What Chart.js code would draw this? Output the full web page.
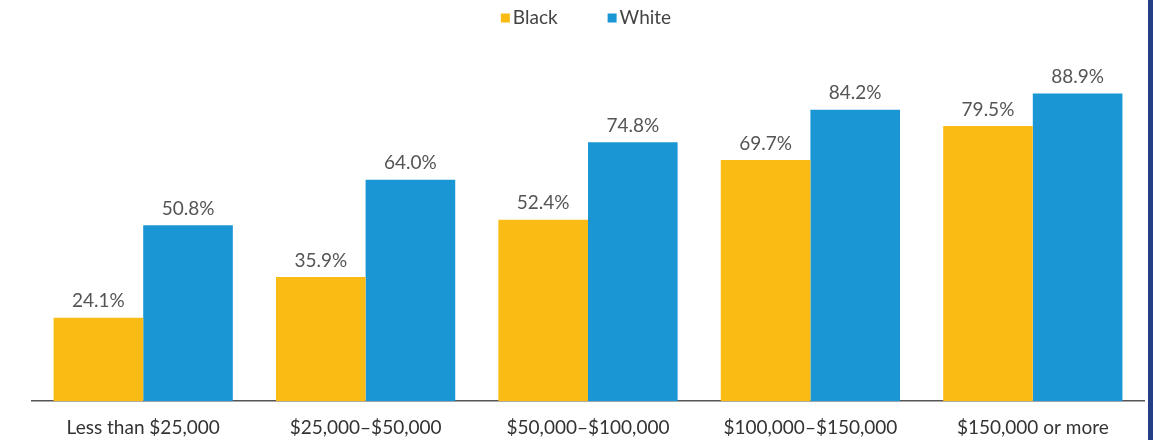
<!DOCTYPE html>
<html>
<head>
<meta charset="utf-8">
<script src="https://cdn.jsdelivr.net/npm/chart.js@4.4.0/dist/chart.umd.min.js"></script>
<style>
  body { margin: 0; background: #fff; }
  #caja { width: 1148px; height: 440px; border-right: 5px solid #243f86; position: relative; }
</style>
</head>
<body>
<div id="caja"><canvas id="grafico" width="1148" height="440"></canvas></div>
<script>
// datos del grafico
const categorias = ["Less than $25,000", "$25,000\u2013$50,000", "$50,000\u2013$100,000", "$100,000\u2013$150,000", "$150,000 or more"];
const valoresBlack = [24.1, 35.9, 52.4, 69.7, 79.5];
const valoresWhite = [50.8, 64.0, 74.8, 84.2, 88.9];
const nombresSeries = ["Black", "White"];

const colorBlack = "#fbbb15";
const colorWhite = "#1a96d5";
const coloresSeries = [colorBlack, colorWhite];

// etiquetas de valor encima de cada barra
const etiquetasBarras = {
  id: "etiquetasBarras",
  afterDatasetsDraw(chart) {
    const ctx = chart.ctx;
    ctx.save();
    ctx.font = "19px Lato";
    ctx.fillStyle = "#555";
    ctx.textAlign = "center";
    ctx.textBaseline = "bottom";
    chart.data.datasets.forEach((ds, i) => {
      chart.getDatasetMeta(i).data.forEach((barra, j) => {
        ctx.fillText(ds.data[j].toFixed(1) + "%", barra.x, barra.y - 7);
      });
    });
    ctx.restore();
  }
};

// leyenda arriba al centro (cuadrado pegado al texto)
const leyenda = {
  id: "leyenda",
  afterDraw(chart) {
    const ctx = chart.ctx;
    ctx.save();
    ctx.font = "19px Lato";
    ctx.textBaseline = "middle";
    const caja = 9, sep = 3, entre = 50;
    let total = 0;
    nombresSeries.forEach((n, i) => {
      total += caja + sep + ctx.measureText(n).width + (i > 0 ? entre : 0);
    });
    let x = 586 - total / 2;
    const y = 18;
    nombresSeries.forEach((n, i) => {
      ctx.fillStyle = coloresSeries[i];
      ctx.fillRect(x, y - caja / 2, caja, caja);
      x += caja + sep;
      ctx.fillStyle = "#444";
      ctx.fillText(n, x, y);
      x += ctx.measureText(n).width + entre;
    });
    ctx.restore();
  }
};

new Chart(document.getElementById("grafico"), {
  type: "bar",
  data: {
    labels: categorias,
    datasets: [
      { label: nombresSeries[0], data: valoresBlack, backgroundColor: colorBlack },
      { label: nombresSeries[1], data: valoresWhite, backgroundColor: colorWhite }
    ]
  },
  options: {
    responsive: false,
    animation: false,
    devicePixelRatio: 1,
    datasets: { bar: { categoryPercentage: 0.806, barPercentage: 1 } },
    layout: { padding: { left: 32, right: 4, top: 55, bottom: -14 } },
    plugins: {
      tooltip: { enabled: false },
      legend: { display: false }
    },
    scales: {
      x: {
        grid: { display: false, drawTicks: false },
        border: { color: "#555", width: 1.5 },
        ticks: { color: "#333", font: { family: "Lato", size: 19 }, padding: 15, maxRotation: 0 }
      },
      y: {
        display: false,
        min: 0,
        max: 100
      }
    }
  },
  plugins: [etiquetasBarras, leyenda]
});
</script>
</body>
</html>
